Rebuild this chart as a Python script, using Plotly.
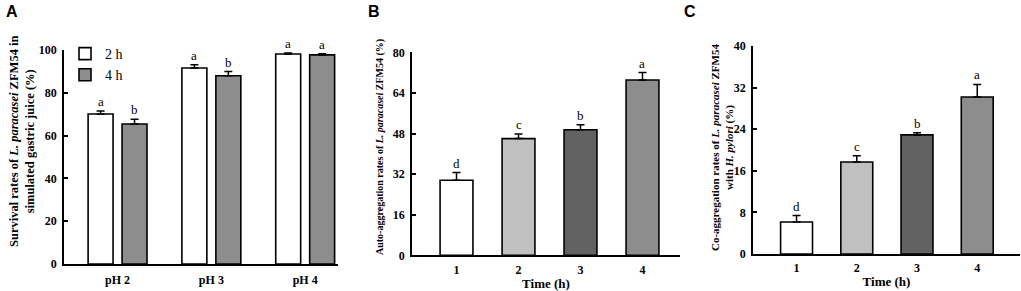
import plotly.graph_objects as go

# ---- data ----
ph_labels = ["pH 2", "pH 3", "pH 4"]
surv_2h = [70.1, 91.6, 98.1]
surv_2h_err = [1.4, 1.5, 0.5]
surv_4h = [65.4, 88.0, 97.7]
surv_4h_err = [2.2, 1.9, 0.6]
surv_2h_sig = ["a", "a", "a"]
surv_4h_sig = ["b", "b", "a"]

time_labels = ["1", "2", "3", "4"]
auto_vals = [29.6, 46.0, 49.5, 69.1]
auto_err = [3.0, 1.8, 1.9, 2.9]
auto_sig = ["d", "c", "b", "a"]

co_vals = [6.15, 17.7, 22.9, 30.2]
co_err = [1.25, 1.2, 0.4, 2.4]
co_sig = ["d", "c", "b", "a"]

bar_colors = ["#ffffff", "#c0c0c0", "#626262", "#8d8d8d"]

SERIF = "Liberation Serif"
W, H = 1021, 291

fig = go.Figure()


def px_x(p):
    return p / W


def px_y(p):
    return (H - p) / H


sig_font = dict(family=SERIF, size=13, color="#000000")

# Panel A
pos_a = list(range(len(ph_labels)))
for name, vals, errs, col, off, sig in [
    ("2 h", surv_2h, surv_2h_err, "#ffffff", -0.314, surv_2h_sig),
    ("4 h", surv_4h, surv_4h_err, "#8d8d8d", 0.048, surv_4h_sig),
]:
    fig.add_trace(go.Bar(
        x=pos_a, y=vals, name=name, width=0.266, offset=off,
        marker=dict(color=col, line=dict(color="black", width=1.6)),
        error_y=dict(type="data", symmetric=False, array=errs, arrayminus=[0] * len(errs),
                     color="black", thickness=1.5, width=4),
        xaxis="x", yaxis="y", showlegend=True,
    ))
    for xi, v, e, s in zip(pos_a, vals, errs, sig):
        fig.add_annotation(x=xi + off + 0.133, y=v + e, text=s, xref="x", yref="y",
                           yanchor="bottom", showarrow=False, yshift=0, font=sig_font)

# Panel B
pos_t = [1, 2, 3, 4]
fig.add_trace(go.Bar(
    x=pos_t, y=auto_vals, width=0.53,
    marker=dict(color=bar_colors, line=dict(color="black", width=1.6)),
    error_y=dict(type="data", symmetric=False, array=auto_err, arrayminus=[0] * 4,
                 color="black", thickness=1.5, width=4),
    xaxis="x2", yaxis="y2", showlegend=False,
))
for xi, v, e, s in zip(pos_t, auto_vals, auto_err, auto_sig):
    fig.add_annotation(x=xi, y=v + e, text=s, xref="x2", yref="y2",
                       yanchor="bottom", showarrow=False, yshift=0, font=sig_font)

# Panel C
fig.add_trace(go.Bar(
    x=pos_t, y=co_vals, width=0.53,
    marker=dict(color=bar_colors, line=dict(color="black", width=1.6)),
    error_y=dict(type="data", symmetric=False, array=co_err, arrayminus=[0] * 4,
                 color="black", thickness=1.5, width=4),
    xaxis="x3", yaxis="y3", showlegend=False,
))
for xi, v, e, s in zip(pos_t, co_vals, co_err, co_sig):
    fig.add_annotation(x=xi, y=v + e, text=s, xref="x3", yref="y3",
                       yanchor="bottom", showarrow=False, yshift=0, font=sig_font)

xtickfont = dict(family=SERIF, size=12, color="black", weight="bold")
ytickfont = dict(family=SERIF, size=12, color="black", weight="bold")


def xax(domain, rng, tickvals, ticktext, anchor, title=None, standoff=4):
    d = dict(domain=domain, range=rng, tickvals=tickvals, ticktext=ticktext,
             showline=True, linecolor="black", linewidth=1.6, ticks="",
             showgrid=False, zeroline=False, tickfont=xtickfont, anchor=anchor,
             fixedrange=True, automargin=False, ticklabelstandoff=standoff)
    if title:
        d["title"] = dict(text=title, font=dict(family=SERIF, size=13, color="black", weight="bold"),
                          standoff=3)
    return d


def yax(domain, rng, dtick, anchor):
    return dict(domain=domain, range=rng, dtick=dtick, tick0=0,
                showline=True, linecolor="black", linewidth=1.6,
                ticks="inside", ticklen=4, tickwidth=1.6, tickcolor="black",
                showgrid=False, zeroline=False, tickfont=ytickfont, anchor=anchor,
                ticklabelstandoff=3, fixedrange=True, automargin=False)


fig.update_layout(
    width=W, height=H,
    margin=dict(l=0, r=0, t=0, b=0, autoexpand=False),
    paper_bgcolor="white", plot_bgcolor="white",
    barmode="overlay",
    xaxis=xax([px_x(64), px_x(338)], [-0.571, 2.35], pos_a, ph_labels, "y"),
    yaxis=yax([px_y(264), px_y(50)], [0, 100], 20, "x"),
    xaxis2=xax([px_x(412), px_x(680)], [0.282, 4.605], pos_t, time_labels, "y2", "Time (h)", 2),
    yaxis2=yax([px_y(255.3), px_y(52.3)], [0, 80], 16, "x2"),
    xaxis3=xax([px_x(753), px_x(1020)], [0.277, 4.71], pos_t, time_labels, "y3", "Time (h)", 2),
    yaxis3=yax([px_y(254), px_y(46)], [0, 40], 8, "x3"),
    legend=dict(x=px_x(65), y=px_y(38), xanchor="left", yanchor="top",
                font=dict(family=SERIF, size=14, color="black"),
                bgcolor="rgba(0,0,0,0)", tracegroupgap=4, itemwidth=30),
    showlegend=True,
)

# y-axis titles
fig.add_annotation(x=px_x(22), y=px_y(142), xref="paper", yref="paper", showarrow=False,
                   text="Survival rates of <i>L. paracasei</i> ZFM54 in<br>simulated gastric juice (%)",
                   textangle=-90, xanchor="center", yanchor="middle",
                   font=dict(family=SERIF, size=12.5, color="black", weight="bold"))
fig.add_annotation(x=px_x(380), y=px_y(147), xref="paper", yref="paper", showarrow=False,
                   text="Auto-aggregation rates of <i>L. paracasei</i> ZFM54 (%)",
                   textangle=-90, xanchor="center", yanchor="middle",
                   font=dict(family=SERIF, size=10, color="black", weight="bold"))
fig.add_annotation(x=px_x(722), y=px_y(148), xref="paper", yref="paper", showarrow=False,
                   text="Co-aggregation rates of <i>L. paracasei</i> ZFM54<br>with <i>H. pylori</i> (%)",
                   textangle=-90, xanchor="center", yanchor="middle",
                   font=dict(family=SERIF, size=11, color="black", weight="bold"))

# panel letters
for letter, xp in [("A", 12), ("B", 374), ("C", 690)]:
    fig.add_annotation(x=px_x(xp), y=px_y(12), xref="paper", yref="paper", showarrow=False,
                       text=letter, xanchor="center", yanchor="middle",
                       font=dict(family="Liberation Sans", size=16, color="black", weight="bold"))

fig.write_html(
    "out.html",
    config={"displayModeBar": False},
    post_script="document.body.style.margin='0px';document.body.style.overflow='hidden';",
)
